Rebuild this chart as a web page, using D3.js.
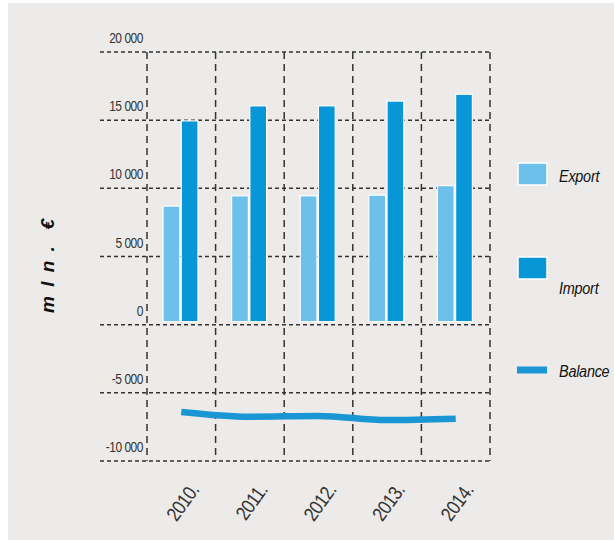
<!DOCTYPE html>
<html>
<head>
<meta charset="utf-8">
<script src="https://cdn.jsdelivr.net/npm/d3@7"></script>
<style>
  html, body { margin: 0; padding: 0; background: #ffffff; }
  svg { display: block; }
</style>
</head>
<body>
<svg id="chart" width="614" height="540"></svg>
<script>
// Trade figures, mln. €
const years = ["2010.", "2011.", "2012.", "2013.", "2014."];
const exportValues = [8700, 9450, 9450, 9500, 10200];
const importValues = [14950, 16050, 16050, 16400, 16900];
const balanceValues = [-6400, -6750, -6700, -7000, -6900];
const yTicks = [-10000, -5000, 0, 5000, 10000, 15000, 20000];
const seriesNames = ["Export", "Import", "Balance"];

const colors = { export: "#6cc0ea", import: "#0796d6", balance: "#1a96d5" };
const FONT = "Liberation Sans, Arial, sans-serif";

const svg = d3.select("#chart");
svg.append("rect").attr("x", 8).attr("y", 3).attr("width", 606).attr("height", 537).attr("fill", "#ecebe9");

const plot = { left: 147, right: 490, top: 52, bottom: 461 };

const x = d3.scaleBand().domain(years).range([plot.left, plot.right]).paddingInner(0).paddingOuter(0);
const y = d3.scaleLinear().domain([-10000, 20000]).range([plot.bottom, plot.top]);

const inner = d3.scaleBand().domain(["export", "import"]).range([16, 51]).paddingInner(0.08);

const fmt = v => d3.format(",")(v).replace(/,/g, " ").replace("−", "-");

// horizontal grid
svg.append("g").selectAll("line").data(yTicks).join("line")
  .attr("x1", 100).attr("x2", plot.right)
  .attr("y1", d => y(d)).attr("y2", d => y(d))
  .attr("stroke", "#333").attr("stroke-width", 1.5).attr("stroke-dasharray", "4,3");

// vertical grid at band edges
const edges = years.map(d => x(d)).concat([x(years[years.length - 1]) + x.bandwidth()]);
svg.append("g").selectAll("line").data(edges).join("line")
  .attr("x1", d => d).attr("x2", d => d)
  .attr("y1", plot.top).attr("y2", plot.bottom)
  .attr("stroke", "#333").attr("stroke-width", 1.5).attr("stroke-dasharray", "7,5");

// y tick labels, condensed, sitting just above each grid line
svg.append("g").selectAll("text").data(yTicks).join("text")
  .attr("transform", d => `translate(143,${y(d) - 9}) scale(0.8,1)`)
  .attr("text-anchor", "end")
  .attr("font-family", FONT)
  .attr("font-size", 15).attr("letter-spacing", -0.6)
  .attr("fill", "#333")
  .text(d => fmt(d));

// bars
const groups = svg.append("g").selectAll("g").data(years).join("g")
  .attr("transform", d => `translate(${x(d)},0)`);

groups.append("rect")
  .attr("x", inner("export")).attr("width", inner.bandwidth())
  .attr("y", (d, i) => y(exportValues[i])).attr("height", (d, i) => y(0) - 3 - y(exportValues[i]))
  .attr("fill", colors.export).attr("stroke", "#ffffff").attr("stroke-width", 1.2);

groups.append("rect")
  .attr("x", inner("import")).attr("width", inner.bandwidth())
  .attr("y", (d, i) => y(importValues[i])).attr("height", (d, i) => y(0) - 3 - y(importValues[i]))
  .attr("fill", colors.import).attr("stroke", "#ffffff").attr("stroke-width", 1.2);

// balance line
const line = d3.line()
  .x((d, i) => x(years[i]) + x.bandwidth() / 2)
  .y(d => y(d))
  .curve(d3.curveMonotoneX);

svg.append("path").datum(balanceValues)
  .attr("d", line)
  .attr("fill", "none").attr("stroke", colors.balance).attr("stroke-width", 6.5)
  .attr("stroke-linecap", "butt");

// year labels, rotated and condensed
svg.append("g").selectAll("text").data(years).join("text")
  .attr("transform", d => `translate(${x(d) + x.bandwidth() / 2 + 13},${486}) rotate(-54) scale(0.85,1)`)
  .attr("text-anchor", "end")
  .attr("dy", "0.35em")
  .attr("font-family", FONT)
  .attr("font-size", 20).attr("letter-spacing", -0.6)
  .attr("fill", "#333")
  .text(d => d);

// y axis title
svg.append("text")
  .attr("transform", "translate(54,265) rotate(-90)")
  .attr("text-anchor", "middle")
  .attr("font-family", FONT)
  .attr("font-weight", "bold").attr("font-style", "italic")
  .attr("font-size", 19).attr("letter-spacing", 2).attr("fill", "#111")
  .attr("xml:space", "preserve")
  .text("m l n .  €");

// legend
const legend = svg.append("g");
const legendItems = [
  { name: seriesNames[0], color: colors.export, type: "box", sy: 163, ty: 176 },
  { name: seriesNames[1], color: colors.import, type: "box", sy: 257, ty: 288 },
  { name: seriesNames[2], color: colors.balance, type: "line", sy: 370, ty: 371 }
];
legendItems.forEach(it => {
  if (it.type === "box") {
    legend.append("rect").attr("x", 518).attr("y", it.sy).attr("width", 29).attr("height", 22)
      .attr("fill", it.color).attr("stroke", "#ffffff").attr("stroke-width", 1.5);
  } else {
    legend.append("rect").attr("x", 517).attr("y", it.sy - 3.5).attr("width", 30).attr("height", 7)
      .attr("fill", it.color);
  }
  legend.append("text")
    .attr("transform", `translate(559,${it.ty}) scale(0.85,1)`)
    .attr("dy", "0.35em")
    .attr("font-family", FONT)
    .attr("font-size", 17).attr("font-style", "italic").attr("letter-spacing", -0.3)
    .attr("fill", "#111")
    .text(it.name);
});
</script>
</body>
</html>
